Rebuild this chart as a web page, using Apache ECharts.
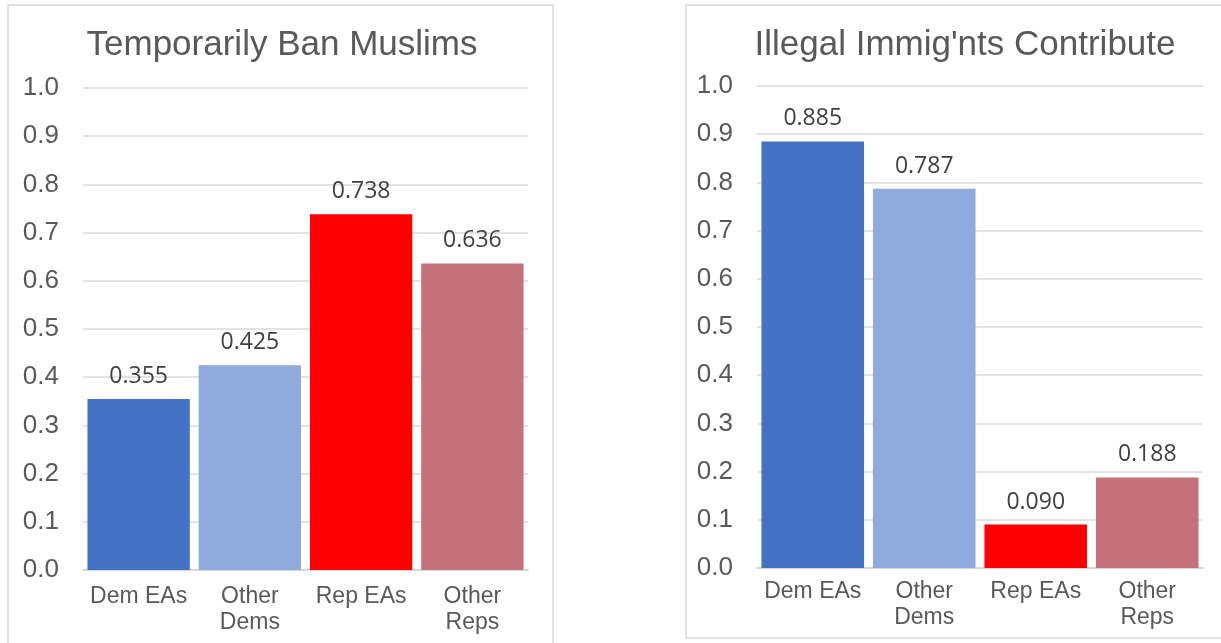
<!DOCTYPE html>
<html>
<head>
<meta charset="utf-8">
<script src="https://cdn.jsdelivr.net/npm/echarts@6/dist/echarts.min.js"></script>
<style>
  html, body { margin: 0; padding: 0; background: #ffffff; }
  #chart { width: 1221px; height: 643px; }
</style>
</head>
<body>
<div id="chart"></div>
<script>
// Group labels shared by both panels
const categories = ['Dem EAs', 'Other\nDems', 'Rep EAs', 'Other\nReps'];
const barColors = ['#4472C4', '#8FAADC', '#FF0000', '#C5717B'];

// Share of each group agreeing with the statement
const banMuslims = [0.355, 0.425, 0.738, 0.636];
const immigrantsContribute = [0.885, 0.787, 0.090, 0.188];

const titles = ['Temporarily Ban Muslims', "Illegal Immig'nts Contribute"];

const axisText = { color: '#595959', fontFamily: 'Liberation Sans', fontSize: 26 };
const catText = { color: '#595959', fontFamily: 'Liberation Sans', fontSize: 23, lineHeight: 26 };

function makeSeries(values, idx) {
  return {
    type: 'bar',
    xAxisIndex: idx,
    yAxisIndex: idx,
    barCategoryGap: '8%',
    data: values.map((v, i) => ({ value: v, itemStyle: { color: barColors[i] } })),
    label: {
      show: true,
      position: 'top',
      distance: 11,
      formatter: p => p.value.toFixed(3),
      color: '#404040',
      fontFamily: 'Open Sans',
      fontSize: 23
    },
    silent: true
  };
}

function makeYAxis(idx) {
  return {
    type: 'value',
    gridIndex: idx,
    min: 0,
    max: 1,
    interval: 0.1,
    axisLabel: { ...axisText, margin: 24, formatter: v => v.toFixed(1) },
    axisLine: { show: false },
    axisTick: { show: false },
    splitLine: { lineStyle: { color: '#d9d9d9', width: 1.5 } }
  };
}

function makeXAxis(idx, margin) {
  return {
    type: 'category',
    gridIndex: idx,
    data: categories,
    axisLabel: { ...catText, margin: margin, interval: 0 },
    axisLine: { lineStyle: { color: '#d9d9d9', width: 2 } },
    axisTick: { show: false }
  };
}

const chart = echarts.init(document.getElementById('chart'), null, { renderer: 'canvas' });
chart.setOption({
  animation: false,
  backgroundColor: '#ffffff',
  graphic: [
    { type: 'rect', shape: { x: 8, y: 5, width: 545, height: 660 },
      style: { fill: 'none', stroke: '#d9d9d9', lineWidth: 1.5 }, z: -10 },
    { type: 'rect', shape: { x: 686, y: 5, width: 600, height: 633 },
      style: { fill: 'none', stroke: '#d9d9d9', lineWidth: 1.5 }, z: -10 }
  ],
  title: [
    { text: titles[0], left: 277, top: 23, textAlign: 'center',
      textStyle: { color: '#595959', fontFamily: 'Liberation Sans', fontSize: 35, fontWeight: 'normal' } },
    { text: titles[1], left: 960, top: 23, textAlign: 'center',
      textStyle: { color: '#595959', fontFamily: 'Liberation Sans', fontSize: 35, fontWeight: 'normal' } }
  ],
  grid: [
    { left: 83, right: 693, top: 88, bottom: 73 },
    { left: 757, right: 18, top: 86, bottom: 75 }
  ],
  xAxis: [makeXAxis(0, 14), makeXAxis(1, 11)],
  yAxis: [makeYAxis(0), makeYAxis(1)],
  series: [makeSeries(banMuslims, 0), makeSeries(immigrantsContribute, 1)]
});
</script>
</body>
</html>
